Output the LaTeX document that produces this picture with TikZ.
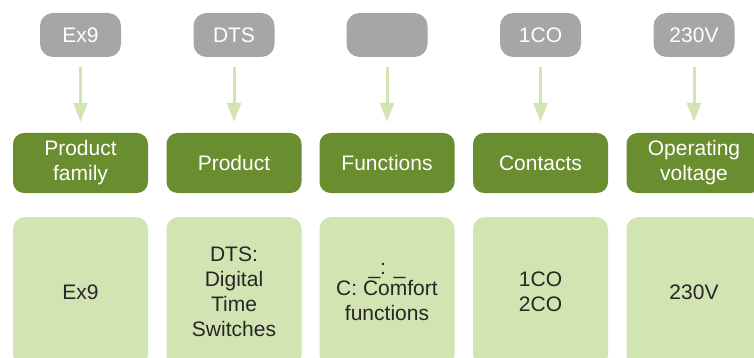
\documentclass[tikz,border=0pt]{standalone}
\usepackage{fontspec}
\setmainfont{Liberation Sans}
\definecolor{tsGray}{HTML}{A6A6A9}
\definecolor{tsGreen}{HTML}{6A8D2F}
\definecolor{tsGreenLight}{HTML}{D1E4B2}
\definecolor{tsText}{HTML}{262626}
\usetikzlibrary{positioning,arrows.meta}

\tikzset{
  tagbox/.style={fill=tsGray, rounded corners=13pt, minimum width=81pt, minimum height=44pt,
    text=white, font=\fontsize{21}{25}\selectfont, inner sep=0pt},
  headbox/.style={fill=tsGreen, rounded corners=11pt, minimum width=135pt, minimum height=60pt,
    text=white, font=\fontsize{21}{25}\selectfont, align=center, inner sep=0pt},
  descbox/.style={fill=tsGreenLight, rounded corners=12pt, minimum width=135pt, minimum height=150pt,
    text=tsText, font=\fontsize{21}{25}\selectfont, align=center, inner sep=0pt},
  feedarrow/.style={draw=tsGreenLight, line width=3pt, -{Triangle[length=19pt, width=14pt]},
    shorten <=10pt, shorten >=11pt}
}

\begin{document}
\begin{tikzpicture}[x=1pt, y=-1pt]
  \useasboundingbox (0,0) rectangle (754,358);
  \clip (0,0) rectangle (754,358);

  % Code tags
  \node[tagbox] (tagFamily) at (80.5,35) {Ex9};
  \node[tagbox] (tagProduct) at (234,35) {DTS};
  \node[tagbox] (tagFunctions) at (387,35) {};
  \node[tagbox] (tagContacts) at (540.5,35) {1CO};
  \node[tagbox] (tagVoltage) at (694,35) {230V};

  % Headings
  \node[headbox] (headFamily) at (80.5,163) {Product\\family};
  \node[headbox] (headProduct) at (234,163) {Product};
  \node[headbox] (headFunctions) at (387,163) {Functions};
  \node[headbox] (headContacts) at (540.5,163) {Contacts};
  \node[headbox] (headVoltage) at (694,163) {Operating\\voltage};

  % Descriptions
  \node[descbox] (descFamily) at (80.5,292) {Ex9};
  \node[descbox] (descProduct) at (234,292) {DTS:\\Digital\\Time\\Switches};
  \node[descbox] (descFunctions) at (387,292) {\_: \_\\[-4pt]C: Comfort\\functions};
  \node[descbox] (descContacts) at (540.5,292) {1CO\\2CO};
  \node[descbox] (descVoltage) at (694,292) {230V};

  % Arrows
  \draw[feedarrow] (tagFamily) -- (headFamily);
  \draw[feedarrow] (tagProduct) -- (headProduct);
  \draw[feedarrow] (tagFunctions) -- (headFunctions);
  \draw[feedarrow] (tagContacts) -- (headContacts);
  \draw[feedarrow] (tagVoltage) -- (headVoltage);

\end{tikzpicture}
\end{document}
